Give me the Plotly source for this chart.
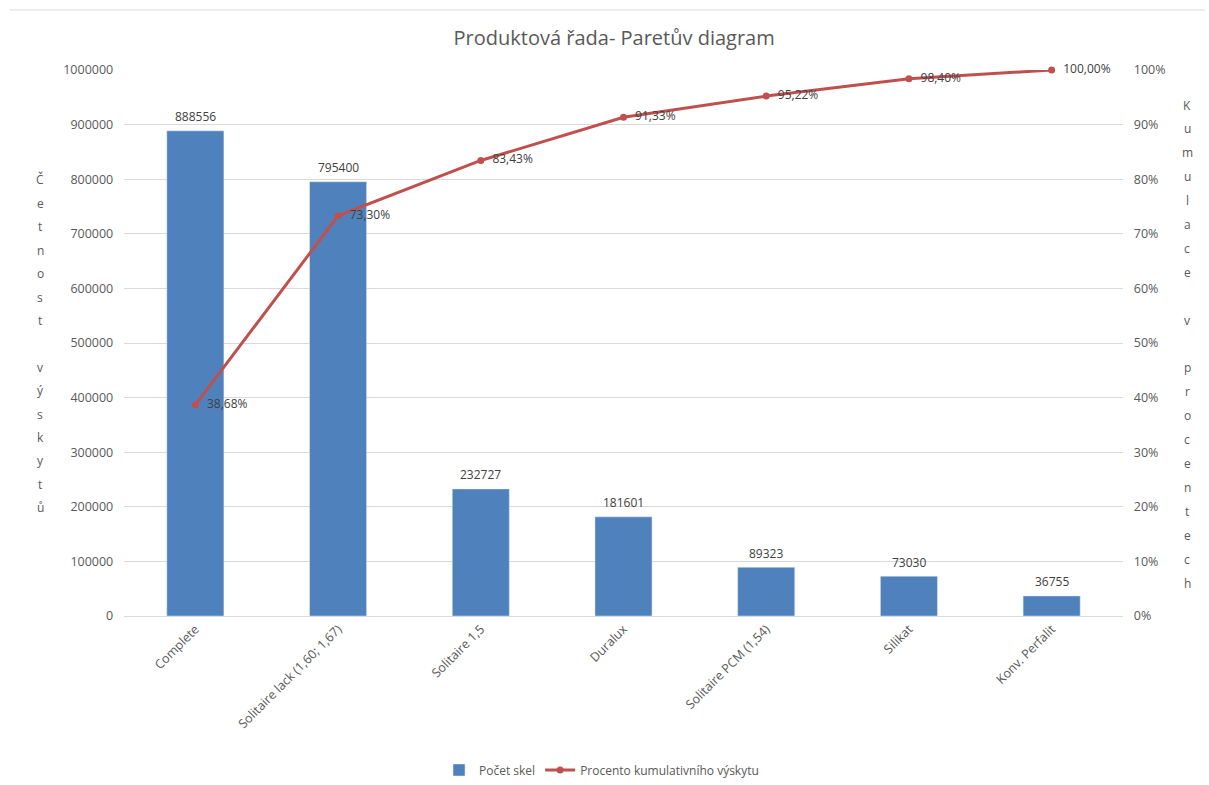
import plotly.graph_objects as go

categories = ["Complete", "Solitaire lack (1,60; 1,67)", "Solitaire 1,5", "Duralux",
              "Solitaire PCM (1,54)", "Silikat", "Konv. Perfalit"]
counts = [888556, 795400, 232727, 181601, 89323, 73030, 36755]
cum_pct = [38.68, 73.30, 83.43, 91.33, 95.22, 98.40, 100.00]

left_title = "Četnost výskytů"
right_title = "Kumulace v procentech"

font_fam = "Open Sans, Liberation Sans, sans-serif"
grey = "#595959"
dark = "#404040"

# plot area in pixels
L, R, T, B = 124, 86, 70, 169
W, H = 1209, 785
ph = H - T - B

fig = go.Figure()
fig.add_trace(go.Bar(
    x=categories, y=counts, name="Počet skel",
    marker_color="#4f81bd", width=0.4,
))
fig.add_trace(go.Scatter(
    x=categories, y=[v / 100 for v in cum_pct], name="Procento kumulativního výskytu",
    mode="lines+markers+text", yaxis="y2",
    line=dict(color="#c0504d", width=3), marker=dict(size=7, color="#c0504d"),
    text=["  " + f"{v:.2f}%".replace(".", ",") for v in cum_pct], textposition="middle right",
    textfont=dict(size=12, color=dark, family=font_fam),
    cliponaxis=False,
))

annotations = []
for c, v in zip(categories, counts):
    annotations.append(dict(x=c, y=v, xref="x", yref="y", text=str(v), showarrow=False,
                            yanchor="middle", yshift=14, font=dict(size=12, color=dark)))

def letters(s, x_px, y0_px, step):
    out = []
    for i, ch in enumerate(s):
        if ch == " ":
            continue
        ypx = y0_px + i * step
        out.append(dict(text=ch, xref="paper", yref="paper",
                        x=(x_px - L) / (W - L - R), y=(H - B - ypx) / ph,
                        xanchor="center", yanchor="middle", showarrow=False,
                        font=dict(size=12, color=grey)))
    return out

annotations += letters(left_title, 40, 180, 23.4)
annotations += letters(right_title, 1187, 105, 23.9)

fig.update_layout(
    width=W, height=H,
    margin=dict(l=L, r=R, t=T, b=B, autoexpand=False),
    paper_bgcolor="white", plot_bgcolor="white",
    font=dict(family=font_fam, size=12, color=grey),
    title=dict(text="Produktová řada- Paretův diagram", x=0.508, xanchor="center",
               y=(H - 38) / H, yanchor="middle", font=dict(size=20, color=grey)),
    xaxis=dict(tickangle=-45, showgrid=False, showline=True, linecolor="#d9d9d9",
               ticks="", tickfont=dict(size=12.5, color=grey), automargin=False),
    yaxis=dict(range=[0, 1000000], dtick=100000, gridcolor="#d9d9d9", zeroline=False,
               tickformat="d", showline=False, tickfont=dict(size=12.5, color=grey),
               ticksuffix="   ", automargin=False),
    yaxis2=dict(range=[0, 1], dtick=0.1, tickformat=".0%", overlaying="y", side="right",
                showgrid=False, zeroline=False, tickfont=dict(size=12.5, color=grey),
                tickprefix="   ", automargin=False),
    showlegend=True,
    legend=dict(orientation="h", x=0.478, xanchor="center", y=(H - B - 770) / ph,
                yanchor="middle", font=dict(size=12, color=grey)),
    shapes=[dict(type="line", xref="paper", yref="paper", x0=(10 - L) / (W - L - R),
                 x1=(1205 - L) / (W - L - R), y0=(H - B - 10) / ph, y1=(H - B - 10) / ph,
                 line=dict(color="#d9d9d9", width=1))],
    annotations=annotations,
)

fig.write_html("out.html")
